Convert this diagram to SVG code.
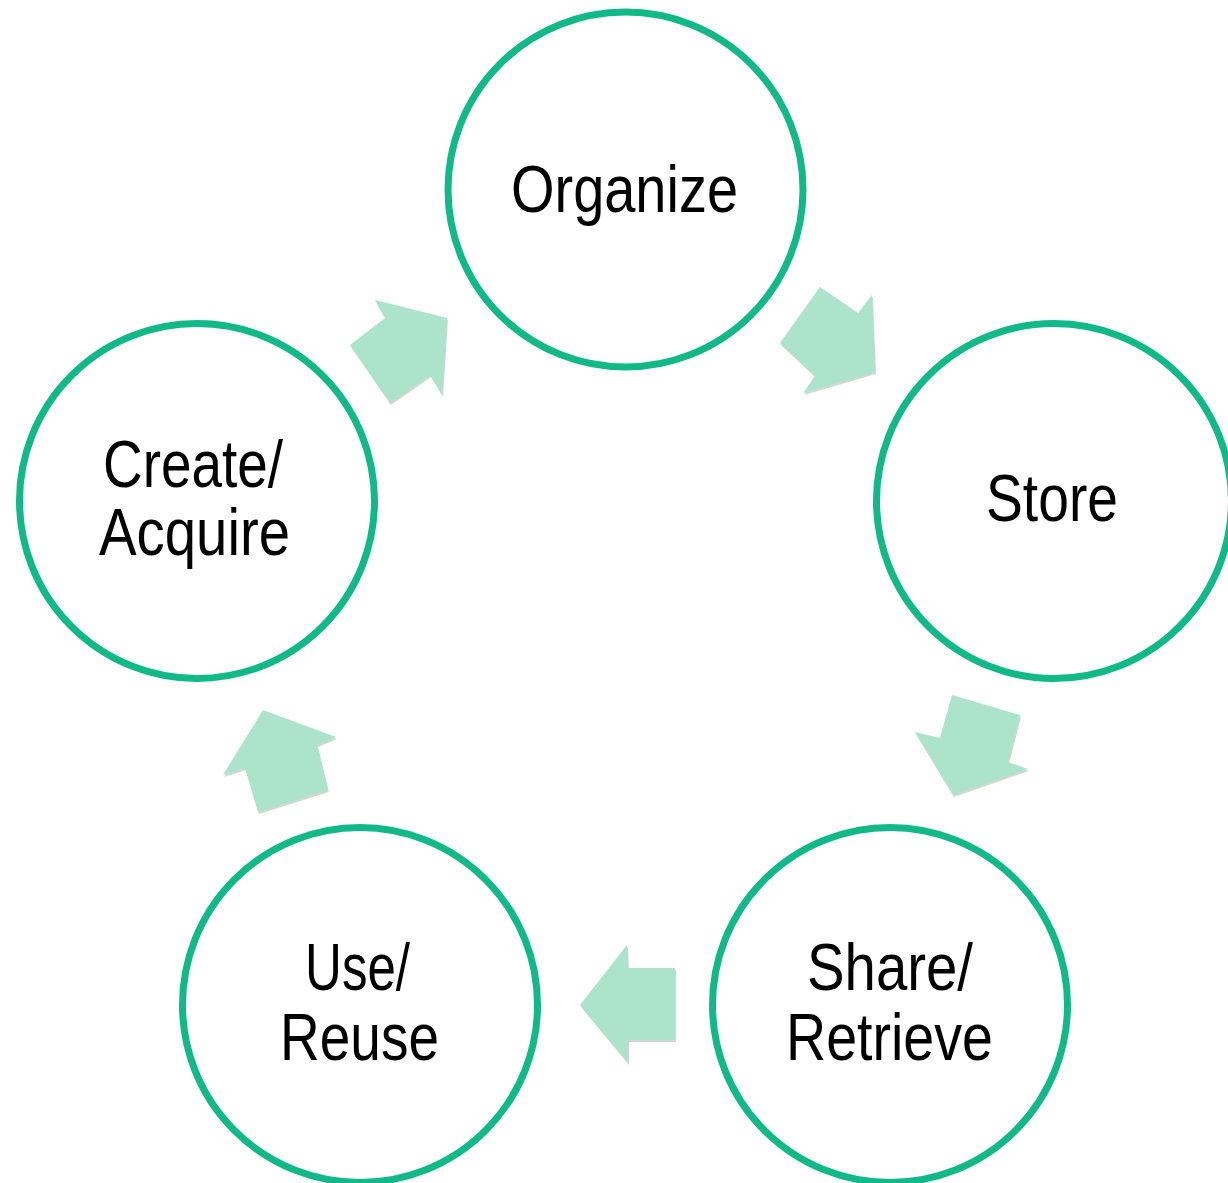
<svg xmlns="http://www.w3.org/2000/svg" width="1228" height="1183" viewBox="0 0 1228 1183">
<style>
.node circle{fill:#ffffff;stroke:#12B988;stroke-width:7}
.node text{font-family:"Liberation Sans",Arial,sans-serif;font-size:67px;fill:#000000}
.arrow{fill:#ABE3CB}
.shadow{fill:#9aa8a0;opacity:0.45}
</style>
<rect width="1228" height="1183" fill="#ffffff"/>
<g id="connectors">
<g id="arrow-organize-store">
<polygon class="shadow" transform="translate(1,2)" points="780,343 820,287 858,313 872,295 875,372 803,393 815,376"/>
<polygon class="arrow" points="780,343 820,287 858,313 872,295 875,372 803,393 815,376"/>
</g>
<g id="arrow-store-share">
<polygon class="shadow" transform="translate(1,2)" points="952,695 1020,715 1008,762 1028,769 953,795 915,732 940,738"/>
<polygon class="arrow" points="952,695 1020,715 1008,762 1028,769 953,795 915,732 940,738"/>
</g>
<g id="arrow-share-use">
<polygon class="shadow" transform="translate(1,2)" points="675,968 675,1040 628,1040 628,1063 580,1005 627,945 628,968"/>
<polygon class="arrow" points="675,968 675,1040 628,1040 628,1063 580,1005 627,945 628,968"/>
</g>
<g id="arrow-use-create">
<polygon class="shadow" transform="translate(1,2)" points="328,790 258,812 245,768 223,775 263,710 336,737 317,745"/>
<polygon class="arrow" points="328,790 258,812 245,768 223,775 263,710 336,737 317,745"/>
</g>
<g id="arrow-create-organize">
<polygon class="shadow" transform="translate(1,2)" points="350,345 390,403 430,375 442,395 447,318 375,300 385,318"/>
<polygon class="arrow" points="350,345 390,403 430,375 442,395 447,318 375,300 385,318"/>
</g>
</g>
<g id="node-organize" class="node">
<circle cx="625.5" cy="189.5" r="177.5"/>
<text x="511" y="212" textLength="227" lengthAdjust="spacingAndGlyphs">Organize</text>
</g>
<g id="node-store" class="node">
<circle cx="1054" cy="501" r="177.5"/>
<text x="986" y="521" textLength="132" lengthAdjust="spacingAndGlyphs">Store</text>
</g>
<g id="node-share" class="node">
<circle cx="890" cy="1005" r="177.5"/>
<text x="807" y="990" textLength="166" lengthAdjust="spacingAndGlyphs">Share/</text>
<text x="786" y="1060" textLength="207" lengthAdjust="spacingAndGlyphs">Retrieve</text>
</g>
<g id="node-use" class="node">
<circle cx="360" cy="1005" r="177.5"/>
<text x="305" y="990" textLength="105" lengthAdjust="spacingAndGlyphs">Use/</text>
<text x="280" y="1060" textLength="159" lengthAdjust="spacingAndGlyphs">Reuse</text>
</g>
<g id="node-create" class="node">
<circle cx="197" cy="501" r="177.5"/>
<text x="103" y="487" textLength="180" lengthAdjust="spacingAndGlyphs">Create/</text>
<text x="99" y="555" textLength="191" lengthAdjust="spacingAndGlyphs">Acquire</text>
</g>
</svg>
